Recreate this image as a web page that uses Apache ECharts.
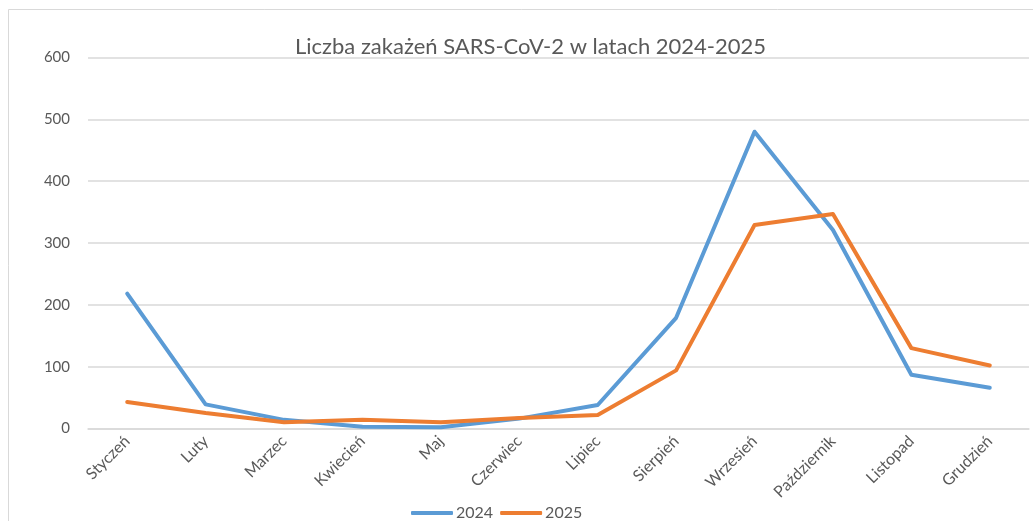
<!DOCTYPE html>
<html><head><meta charset="utf-8">
<script src="https://cdn.jsdelivr.net/npm/echarts@6/dist/echarts.min.js"></script>
<style>html,body{margin:0;padding:0;background:#fff}#c{width:1033px;height:521px}</style>
</head><body><div id="c"></div>
<script>
const categories = ['Styczeń','Luty','Marzec','Kwiecień','Maj','Czerwiec','Lipiec','Sierpień','Wrzesień','Październik','Listopad','Grudzień'];
const values2024 = [218, 39, 14, 3, 2, 16, 38, 179, 480, 321, 87, 66];
const values2025 = [43, 25, 10, 14, 10, 17, 22, 94, 329, 347, 130, 102];
const yTicks = [0, 100, 200, 300, 400, 500, 600];

const chart = echarts.init(document.getElementById('c'));
const font = 'Lato';
chart.setOption({
  animation: false,
  backgroundColor: '#fff',
  graphic: [{type:'rect', shape:{x:8.5,y:9.5,width:1040,height:530}, style:{fill:'none',stroke:'#d9d9d9',lineWidth:1}, silent:true}],
  title: {text:'Liczba zakażeń SARS-CoV-2 w latach 2024-2025', left:290, top:31,
    textStyle:{fontFamily:font, fontSize:22, fontWeight:'normal', color:'#595959'}},
  legend: {top:500, left:406, itemGap:7, itemWidth:42, itemHeight:4, icon:'roundRect',
    textStyle:{fontFamily:font, fontSize:16, color:'#595959', padding:[0,0,0,-2]},
    data:['2024','2025']},
  grid: {left:88, right:4, top:57.5, bottom:92.5},
  xAxis: {type:'category', data:categories, boundaryGap:true,
    axisLine:{lineStyle:{color:'#d9d9d9', width:1.5}}, axisTick:{show:false},
    axisLabel:{rotate:45, fontFamily:font, fontSize:16, color:'#595959', margin:10, interval:0}},
  yAxis: {type:'value', min:yTicks[0], max:yTicks[yTicks.length-1], interval:100,
    axisLine:{show:false}, axisTick:{show:false},
    axisLabel:{fontFamily:font, fontSize:15, color:'#595959', margin:18},
    splitLine:{lineStyle:{color:'#d9d9d9', width:1.5}}},
  series: [
    {name:'2024', type:'line', data:values2024, symbol:'none', lineStyle:{width:4, color:'#5B9BD5', cap:'round', join:'round'}, itemStyle:{color:'#5B9BD5'}},
    {name:'2025', type:'line', data:values2025, symbol:'none', lineStyle:{width:4, color:'#ED7D31', cap:'round', join:'round'}, itemStyle:{color:'#ED7D31'}}
  ]
});
</script></body></html>
